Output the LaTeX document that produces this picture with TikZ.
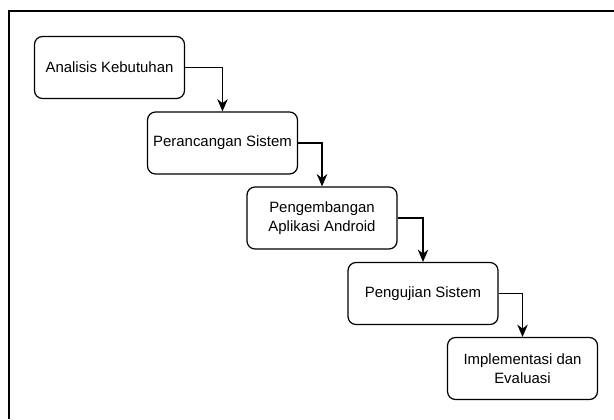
\documentclass[tikz,border=0pt]{standalone}
\usepackage{fontspec}
\setmainfont{Liberation Sans}
\usetikzlibrary{arrows.meta}

\begin{document}
\begin{tikzpicture}[x=0.02cm,y=-0.02cm,line width=0.7pt,
        tahap/.style={draw,rounded corners=0.16cm,minimum width=3.0cm,minimum height=1.24cm,
            align=center,font=\fontsize{8.5}{10.8}\selectfont,inner sep=0pt},
        alur/.style={-{Stealth[length=7pt,width=6pt]},line width=0.6pt}]
        \useasboundingbox (0,0) rectangle (614,419);
        \draw (9,419) -- (9,11) -- (614,11);
        \node[tahap] (analisis) at (109.5,67.5) {Analisis Kebutuhan};
        \node[tahap] (perancangan) at (222.5,143) {Perancangan Sistem};
        \node[tahap] (pengembangan) at (322,218) {Pengembangan\\Aplikasi Android};
        \node[tahap] (pengujian) at (423,293.5) {Pengujian Sistem};
        \node[tahap] (implementasi) at (522.5,368.5) {Implementasi dan\\Evaluasi};
        \draw[alur] (analisis.east) -| (perancangan.north);
        \draw[alur] (perancangan.east) -| (pengembangan.north);
        \draw[alur] (pengembangan.east) -| (pengujian.north);
        \draw[alur] (pengujian.east) -| (implementasi.north);
\end{tikzpicture}
\end{document}
